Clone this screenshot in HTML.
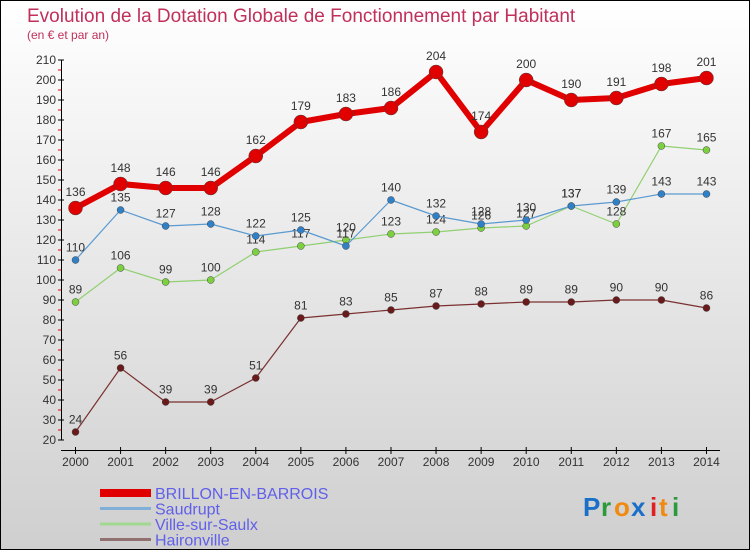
<!DOCTYPE html>
<html><head><meta charset="utf-8"><style>
body{margin:0}
#c{width:750px;height:550px;position:relative;overflow:hidden;box-sizing:border-box;border:1px solid #000;background:linear-gradient(#ffffff,#cfcfcf);font-family:"Liberation Sans",sans-serif}
</style></head><body>
<div id="c">
<svg id="s" width="750" height="550" style="position:absolute;left:-1px;top:-1px">
<text x="27" y="22" font-size="19" fill="#c0305a">Evolution de la Dotation Globale de Fonctionnement par Habitant</text>
<text x="27" y="39" font-size="12" fill="#c0305a">(en € et par an)</text>
<g id="axes"></g><g id="series"></g><g id="legend"></g>
<g font-size="26" font-weight="bold">
<text x="583" y="516" fill="#1a6fc8">P</text><text x="601" y="516" fill="#2a9a3a">r</text><text x="614" y="516" fill="#f08a10">o</text><text x="631" y="516" fill="#1a6fc8">x</text><text x="650" y="516" fill="#e02020">i</text><text x="659" y="516" fill="#f08a10">t</text><text x="672" y="516" fill="#2a9a3a">i</text>
</g>
</svg>
</div>
<script>
const years=[2000,2001,2002,2003,2004,2005,2006,2007,2008,2009,2010,2011,2012,2013,2014];
const brillon=[136,148,146,146,162,179,183,186,204,174,200,190,191,198,201];
const saudrupt=[110,135,127,128,122,125,117,140,132,128,130,137,139,143,143];
const ville=[89,106,99,100,114,117,120,123,124,126,127,137,128,167,165];
const haironville=[24,56,39,39,51,81,83,85,87,88,89,89,90,90,86];
const yTicks=[20,30,40,50,60,70,80,90,100,110,120,130,140,150,160,170,180,190,200,210];
const NS="http://www.w3.org/2000/svg";
const X=i=>75.5+i*45.07, Y=v=>440-(v-20)*2;
function mk(p,t,a){const e=document.createElementNS(NS,t);for(const k in a)e.setAttribute(k,a[k]);p.appendChild(e);return e;}
const ax=document.getElementById('axes');
let yl=mk(ax,'line',{x1:61.5,y1:Y(210),x2:61.5,y2:440,stroke:'#000'});


yTicks.forEach(v=>{mk(ax,'line',{x1:58,x2:64,y1:Y(v),y2:Y(v),stroke:'#000'});
 if(v<210)mk(ax,'line',{x1:58,x2:61,y1:Y(v+5),y2:Y(v+5),stroke:'#e00'});
 const t=mk(ax,'text',{x:56,y:Y(v)+4,'text-anchor':'end','font-size':12,fill:'#333'});t.textContent=v;
 
 });
let xl=mk(ax,'line',{x1:61,y1:450.5,x2:720,y2:450.5,stroke:'#000'});


years.forEach((y,i)=>{mk(ax,'line',{x1:X(i),x2:X(i),y1:447,y2:454,stroke:'#000'});
 const t=mk(ax,'text',{x:X(i),y:466,'text-anchor':'middle','font-size':12,fill:'#333'});t.textContent=y;
 
 });
const sg=document.getElementById('series');
function draw(name,data,col,dot,w,r,fs){
 const g=mk(sg,'g',{});
 
 
 mk(g,'polyline',{points:data.map((v,i)=>X(i)+','+Y(v)).join(' '),fill:'none',stroke:col,'stroke-width':w,'stroke-linejoin':'round'});
 data.forEach((v,i)=>{const c=mk(g,'circle',{cx:X(i),cy:Y(v),r:r,fill:dot,stroke:'#444','stroke-width':0.5});
  
  
  const t=mk(g,'text',{x:X(i),y:Y(v)-(r+5),'text-anchor':'middle','font-size':fs,fill:'#333'});t.textContent=v;});
}
draw('haironville-series',haironville,'#7a3030','#6a1a1a',1.2,3.5,12);
draw('ville-sur-saulx-series',ville,'#90d070','#7cd040',1.2,3.5,12);
draw('saudrupt-series',saudrupt,'#5a9ad0','#3080c8',1.2,3.5,12);
draw('brillon-series',brillon,'#e00000','#e00000',6,7,12);
const lg=document.getElementById('legend');
[['BRILLON-EN-BARROIS','#e00000',8],['Saudrupt','#80b0d8',3],['Ville-sur-Saulx','#a0d890',3],['Haironville','#907070',3]].forEach((d,i)=>{
 const y=493+i*15.5;
 const g=mk(lg,'g',{});
 
 
 mk(g,'line',{x1:100,x2:151,y1:y,y2:y,stroke:d[1],'stroke-width':d[2]});
 const t=mk(g,'text',{x:155,y:y+6,'font-size':16,fill:'#6060e8'});t.textContent=d[0];
});
</script>
</body></html>
